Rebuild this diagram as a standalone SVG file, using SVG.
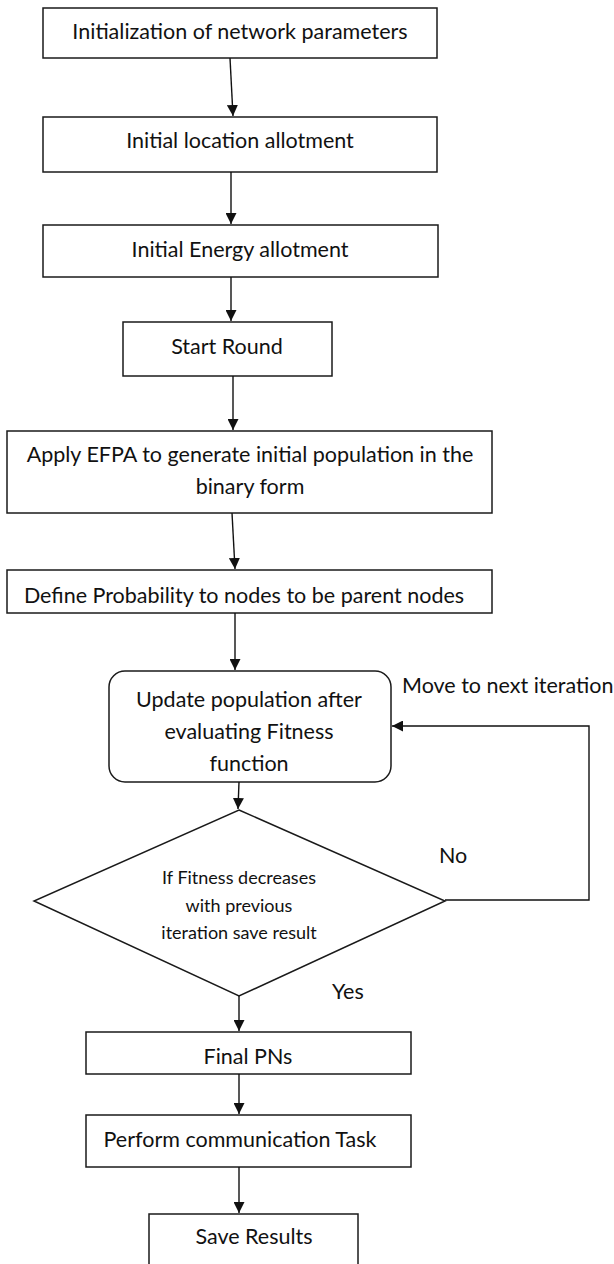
<svg xmlns="http://www.w3.org/2000/svg" width="614" height="1264" viewBox="0 0 614 1264">
<style>
.box{fill:#fff;stroke:#1a1a1a;stroke-width:1.5}
.t{font-family:Lato,"Noto Sans",sans-serif;font-size:21.5px;fill:#111;text-anchor:middle}
.ts{font-family:Lato,"Noto Sans",sans-serif;font-size:18px;fill:#111;text-anchor:middle}
.tl{font-family:Lato,"Noto Sans",sans-serif;font-size:21.5px;fill:#111}
.c{fill:none;stroke:#111;stroke-width:1.4}
</style>
<defs>
<marker id="arr" viewBox="0 0 10 10" refX="10" refY="5" markerWidth="11" markerHeight="11" markerUnits="userSpaceOnUse" orient="auto">
<path d="M0,0 L10,5 L0,10 z" fill="#111"/>
</marker>
</defs>
<rect width="614" height="1264" fill="#fff"/>
<g id="n1"><rect class="box" x="43" y="8" width="394" height="50"/><text class="t" x="240" y="39">Initialization of network parameters</text></g>
<g id="n2"><rect class="box" x="43" y="117" width="394" height="55"/><text class="t" x="240" y="148">Initial location allotment</text></g>
<g id="n3"><rect class="box" x="43" y="225" width="395" height="52"/><text class="t" x="240" y="257">Initial Energy allotment</text></g>
<g id="n4"><rect class="box" x="123" y="322" width="209" height="54"/><text class="t" x="227" y="354">Start Round</text></g>
<g id="n5"><rect class="box" x="7" y="431" width="485" height="82"/><text class="t" x="250" y="462">Apply EFPA to generate initial population in the</text><text class="t" x="250" y="494">binary form</text></g>
<g id="n6"><rect class="box" x="7" y="570" width="485" height="43"/><text class="t" x="244" y="603">Define Probability to nodes to be parent nodes</text></g>
<g id="n7"><rect class="box" x="109" y="671" width="282" height="111" rx="16" ry="16"/><text class="t" x="249" y="707">Update population after</text><text class="t" x="249" y="739">evaluating Fitness</text><text class="t" x="249" y="771">function</text></g>
<g id="n8"><polygon class="box" points="239,810 445,901 239,996 34,901"/><text class="ts" x="239" y="884">If Fitness decreases</text><text class="ts" x="239" y="912">with previous</text><text class="ts" x="239" y="939">iteration save result</text></g>
<g id="n9"><rect class="box" x="86" y="1032" width="325" height="42"/><text class="t" x="248" y="1064">Final PNs</text></g>
<g id="n10"><rect class="box" x="86" y="1115" width="325" height="52"/><text class="t" x="240" y="1147">Perform communication Task</text></g>
<g id="n11"><rect class="box" x="149" y="1214" width="209" height="60"/><text class="t" x="254" y="1244">Save Results</text></g>
<g id="connectors">
<line class="c" x1="230" y1="58" x2="233" y2="116" marker-end="url(#arr)"/>
<line class="c" x1="231" y1="172" x2="231" y2="224" marker-end="url(#arr)"/>
<line class="c" x1="231" y1="277" x2="231" y2="321" marker-end="url(#arr)"/>
<line class="c" x1="233" y1="376" x2="233" y2="430" marker-end="url(#arr)"/>
<line class="c" x1="232" y1="513" x2="235" y2="569" marker-end="url(#arr)"/>
<line class="c" x1="235" y1="613" x2="235" y2="670" marker-end="url(#arr)"/>
<line class="c" x1="239" y1="782" x2="238" y2="809" marker-end="url(#arr)"/>
<line class="c" x1="239" y1="996" x2="239" y2="1031" marker-end="url(#arr)"/>
<line class="c" x1="239" y1="1074" x2="239" y2="1114" marker-end="url(#arr)"/>
<line class="c" x1="239" y1="1167" x2="239" y2="1213" marker-end="url(#arr)"/>
<polyline class="c" points="445,900 589,900 589,726 392,726" marker-end="url(#arr)"/>
<text class="tl" x="402" y="693">Move to next iteration</text>
<text class="tl" x="439" y="863">No</text>
<text class="tl" x="332" y="999">Yes</text>
</g>
</svg>
